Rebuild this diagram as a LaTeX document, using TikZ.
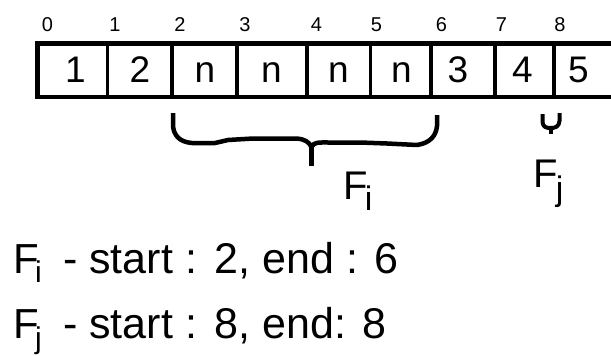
\documentclass[tikz,border=0pt]{standalone}
\usepackage{fontspec}
\setmainfont{Liberation Sans}
\begin{document}
\begin{tikzpicture}[x=1pt,y=-1pt,
  cell/.style={inner sep=0pt, anchor=base, font=\fontsize{37}{40}\selectfont},
  idx/.style={inner sep=0pt, anchor=base, font=\fontsize{20}{22}\selectfont},
  lbl/.style={inner sep=0pt, anchor=base west, font=\fontsize{40}{44}\selectfont},
  blbl/.style={inner sep=0pt, anchor=base west, font=\fontsize{42}{44}\selectfont},
  txt/.style={inner sep=0pt, anchor=base west, font=\fontsize{43}{46}\selectfont},
  frame/.style={line width=4.5pt},
  divider/.style={line width=3.5pt},
  bracepen/.style={line width=4.5pt, line join=round}]
\newcommand{\subfig}[2]{\raisebox{#1}{\fontsize{34}{36}\selectfont #2}}
\newcommand{\subtxt}[2]{\raisebox{#1}{\fontsize{30}{32}\selectfont #2}}
\useasboundingbox (0,0) rectangle (611,356);

% array frame and dividers
\draw[frame] (37.5,43.5) rectangle (630,97);
\foreach \x in {107.5,172,237,307,370.5,431,495,554}
  \draw[divider] (\x,43.5) -- (\x,97);

% cell contents
\node[cell] (c0) at (75.5,82) {1};
\node[cell] (c1) at (140,82) {2};
\node[cell] (c2) at (205,82) {n};
\node[cell] (c3) at (271.5,82) {n};
\node[cell] (c4) at (338.5,82) {n};
\node[cell] (c5) at (401.5,82) {n};
\node[cell] (c6) at (458,82) {3};
\node[cell] (c7) at (522.5,82) {4};
\node[cell] (c8) at (578.5,82) {5};

% indices
\node[idx] (i0) at (47.5,31) {0};
\node[idx] (i1) at (115,31) {1};
\node[idx] (i2) at (180,31) {2};
\node[idx] (i3) at (245,31) {3};
\node[idx] (i4) at (316.5,31) {4};
\node[idx] (i5) at (376.5,31) {5};
\node[idx] (i6) at (441.5,31) {6};
\node[idx] (i7) at (501.5,31) {7};
\node[idx] (i8) at (560,31) {8};

% big hand-drawn brace under cells 2..5
\draw[bracepen] (173,113) -- (173,126)
  .. controls (174,136) and (180,142) .. (192,143)
  -- (215,143) -- (228,140) -- (253,138.5) -- (296,138.5)
  .. controls (305,139) and (309,142) .. (311.5,147)
  .. controls (314,142) and (318,142.5) .. (328,142.5)
  -- (360,142.5) -- (387,143.5) -- (417,145)
  .. controls (430,143) and (436,136) .. (437,126) -- (437,115);
\draw[bracepen] (311.5,145) -- (311.5,166);

% small marker under cell 8
\draw[line width=4pt, line join=round] (542.5,114) -- (542.5,122)
  .. controls (543,127) and (546,128) .. (550.5,128)
  .. controls (555,128) and (559,127) .. (559.5,121) -- (559.5,113);
\draw[line width=4pt] (550.5,127) -- (550.5,134);

% F_i and F_j labels in the figure
\node[lbl] (fi) at (343.7,199) {F\kern-3.4pt\subfig{-11pt}{i}};
\node[lbl] (fj) at (533.7,187) {F\kern-2.4pt\subfig{-13pt}{j}};

% bottom description lines
\node[blbl] (l1f) at (13.5,273) {F\kern-4.2pt\subtxt{-9pt}{i}};
\node[txt] (l1t) at (63,273) {- start :\hspace{2pt} 2, end : 6};
\node[blbl] (l2f) at (13.5,338) {F\kern-4.2pt\subtxt{-10pt}{j}};
\node[txt] (l2t) at (63,338) {- start :\hspace{2pt} 8, end: 8};
\end{tikzpicture}
\end{document}
